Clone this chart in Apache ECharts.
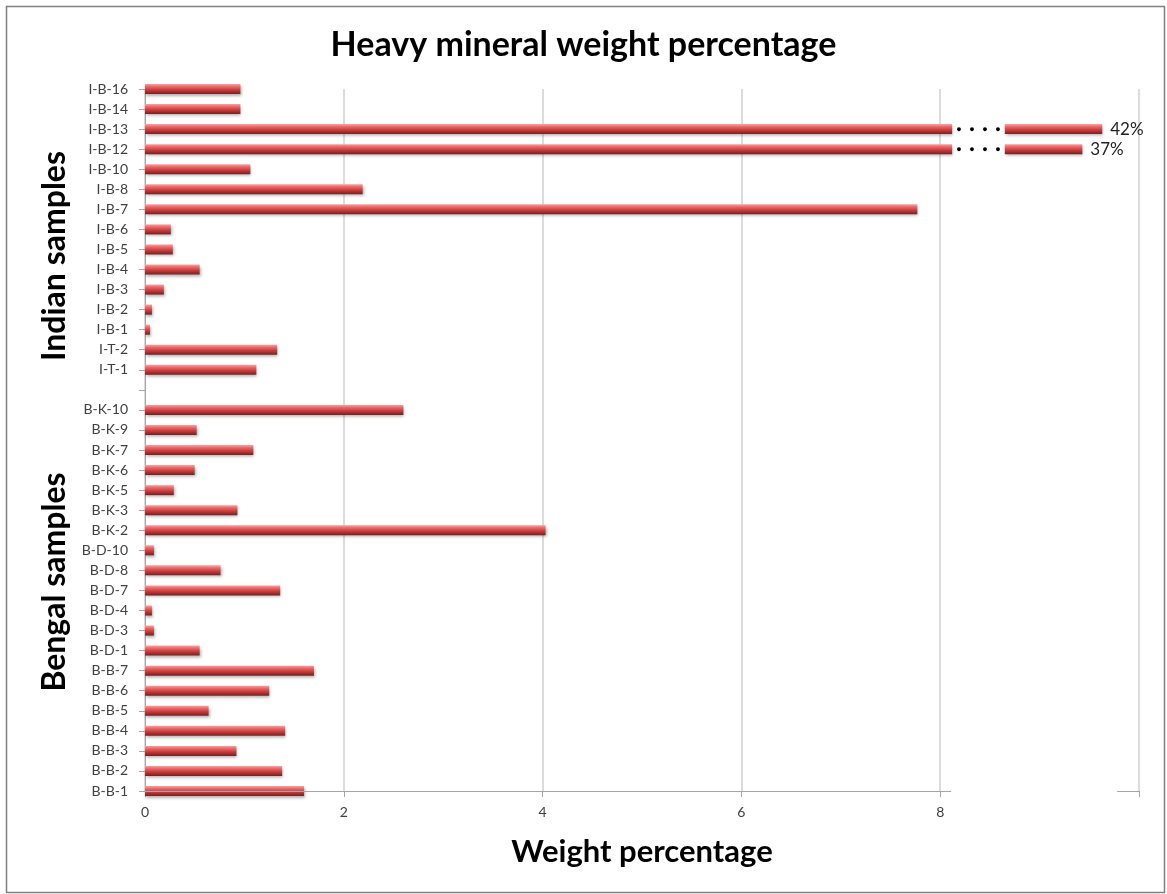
<!DOCTYPE html>
<html>
<head>
<meta charset="utf-8">
<script src="https://cdn.jsdelivr.net/npm/echarts@6/dist/echarts.min.js"></script>
<style>
html,body{margin:0;padding:0;background:#fff;}
#c{width:1167px;height:894px;}
</style>
</head>
<body>
<div id="c"></div>
<script>
// Categories, bottom to top ('' is the spacer between the two groups)
const categories = ['B-B-1','B-B-2','B-B-3','B-B-4','B-B-5','B-B-6','B-B-7','B-D-1','B-D-3','B-D-4','B-D-7','B-D-8','B-D-10','B-K-2','B-K-3','B-K-5','B-K-6','B-K-7','B-K-9','B-K-10','','I-T-1','I-T-2','I-B-1','I-B-2','I-B-3','I-B-4','I-B-5','I-B-6','I-B-7','I-B-8','I-B-10','I-B-12','I-B-13','I-B-14','I-B-16'];
// Drawn bar lengths (weight %); broken bars use their drawn length on the axis
const values = [1.60,1.38,0.92,1.41,0.64,1.25,1.70,0.55,0.09,0.07,1.36,0.76,0.09,4.03,0.93,0.29,0.50,1.09,0.52,2.60,null,1.12,1.33,0.05,0.07,0.19,0.55,0.28,0.26,7.77,2.19,1.06,9.43,9.63,0.96,0.96];
// Labels of bars drawn with an axis break
const brokenLabels = {'I-B-12':'37%','I-B-13':'42%'};
const breakStart = 8.12, breakEnd = 8.65;
const axisGapStart = 8.11, axisGapEnd = 9.78;
const xTicks = [0,2,4,6,8];
const groupNames = ['Indian samples','Bengal samples'];

const seg1 = [], gap = [], seg2 = [];
categories.forEach((c,i)=>{
  const v = values[i];
  if (brokenLabels[c]) { seg1.push(breakStart); gap.push(breakEnd-breakStart); seg2.push(+(v-breakEnd).toFixed(2)); }
  else { seg1.push(v); gap.push(null); seg2.push(null); }
});

const barColor = {type:'linear',x:0,y:0,x2:0,y2:1,colorStops:[
  {offset:0,color:'#f6a3a3'},{offset:0.25,color:'#ea6b6b'},{offset:0.55,color:'#cf3f3f'},{offset:1,color:'#7c1d1d'}]};
const barStyle = {color:barColor, shadowColor:'rgba(0,0,0,0.3)', shadowBlur:3, shadowOffsetY:2, shadowOffsetX:1};

const chart = echarts.init(document.getElementById('c'));
chart.setOption({
  animation:false,
  title:{text:'Heavy mineral weight percentage',left:'center',top:23,
    textStyle:{fontFamily:'Lato',fontWeight:'bold',fontSize:34,color:'#000'}},
  grid:{left:145,right:28,top:89,bottom:103},
  xAxis:{type:'value',min:0,max:10,interval:2,
    name:'Weight percentage',nameLocation:'middle',nameGap:45,
    nameTextStyle:{fontFamily:'Lato',fontWeight:'bold',fontSize:31,color:'#000'},
    axisLine:{show:false},
    axisTick:{show:true,length:6,lineStyle:{color:'#a6a6a6'}},
    axisLabel:{margin:14,fontFamily:'Lato',fontSize:14,color:'#404040',
      formatter:v=>xTicks.indexOf(v)>=0?String(v):''},
    splitLine:{show:true,lineStyle:{color:'#d0d0d0',width:1.5}}
  },
  yAxis:{type:'category',data:categories,boundaryGap:false,
    axisLine:{show:true,lineStyle:{color:'#a6a6a6'}},
    axisTick:{show:true,length:6,interval:0,lineStyle:{color:'#a6a6a6'}},
    axisLabel:{interval:0,margin:17,fontFamily:'Lato',fontSize:14,color:'#404040'},
    splitLine:{show:false}
  },
  series:[
    {type:'bar',stack:'a',data:seg1,barWidth:10,clip:false,itemStyle:barStyle,
     markLine:{silent:true,symbol:'none',label:{show:false},
       lineStyle:{color:'#a6a6a6',type:'solid',width:1},
       data:[[{coord:[0,0]},{coord:[axisGapStart,0]}],[{coord:[axisGapEnd,0]},{coord:[10,0]}]]}},
    {type:'bar',stack:'a',data:gap,barWidth:10,clip:false,itemStyle:{color:'rgba(0,0,0,0)'},
     label:{show:true,position:'inside',formatter:'●   ●   ●   ●',fontSize:9,color:'#000'}},
    {type:'bar',stack:'a',data:seg2,barWidth:10,clip:false,itemStyle:barStyle,
     label:{show:true,position:'right',distance:8,fontFamily:'Lato',fontSize:17,color:'#222',
       formatter:p=>brokenLabels[categories[p.dataIndex]]||''}}
  ],
  graphic:[
    {type:'rect',left:4,top:4,shape:{width:1158,height:886},style:{fill:'none',stroke:'#808080',lineWidth:1.5},silent:true},
    {type:'text',x:55,y:256,rotation:Math.PI/2,style:{text:groupNames[0],fontFamily:'Lato',fontWeight:'bold',fontSize:32,fill:'#000',align:'center',verticalAlign:'middle'}},
    {type:'text',x:55,y:582,rotation:Math.PI/2,style:{text:groupNames[1],fontFamily:'Lato',fontWeight:'bold',fontSize:32,fill:'#000',align:'center',verticalAlign:'middle'}}
  ]
});
</script>
</body>
</html>
